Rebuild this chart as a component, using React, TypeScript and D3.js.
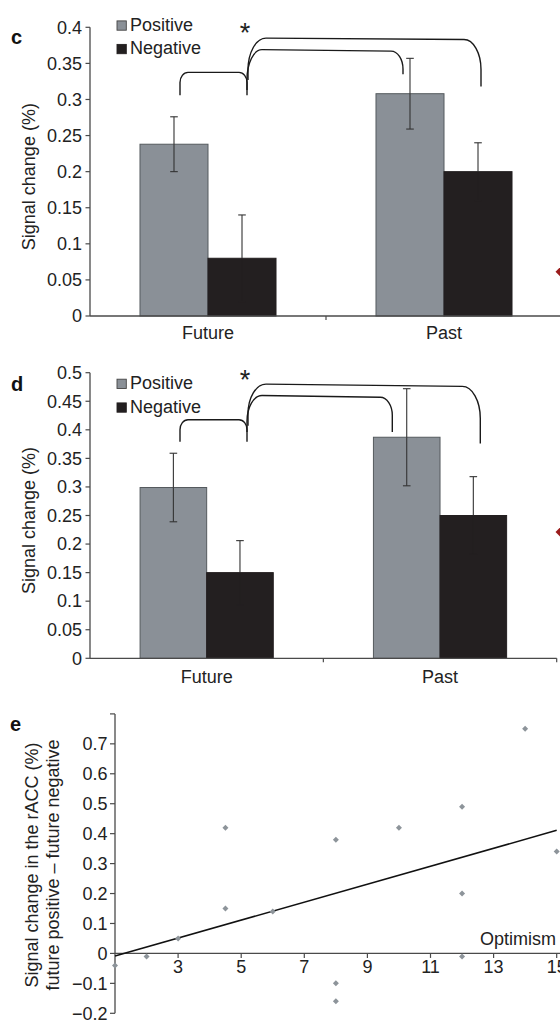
import React, { useEffect } from "react";
import * as d3 from "d3";

// ---------- data ----------
const categories = ["Future", "Past"];
const seriesNames = ["Positive", "Negative"];

const cPositive = [0.238, 0.308];
const cPositiveErr = [0.038, 0.049];
const cNegative = [0.08, 0.2];
const cNegativeErr = [0.06, 0.04];
const cYTicks = [0, 0.05, 0.1, 0.15, 0.2, 0.25, 0.3, 0.35, 0.4];

const dPositive = [0.299, 0.387];
const dPositiveErr = [0.06, 0.085];
const dNegative = [0.15, 0.25];
const dNegativeErr = [0.056, 0.068];
const dYTicks = [0, 0.05, 0.1, 0.15, 0.2, 0.25, 0.3, 0.35, 0.4, 0.45, 0.5];

const eOptimism = [1, 2, 3, 4.5, 4.5, 6, 8, 8, 8, 10, 12, 12, 12, 14, 15];
const eSignal = [-0.04, -0.01, 0.05, 0.42, 0.15, 0.14, 0.38, -0.1, -0.16, 0.42, 0.49, 0.2, -0.01, 0.75, 0.34];
const eXTicks = [3, 5, 7, 9, 11, 13, 15];
const eYTicks = [-0.2, -0.1, 0, 0.1, 0.2, 0.3, 0.4, 0.5, 0.6, 0.7, 0.8];
const eYLabelled = [-0.2, -0.1, 0, 0.1, 0.2, 0.3, 0.4, 0.5, 0.6, 0.7];

// ---------- style ----------
const FONT = "'Liberation Sans', Arial, Helvetica, sans-serif";
const GRAY = "#8a9097";
const BLACK = "#231f20";
const AXIS = "#4a4a4a";
const FS = 18;

const fmt = (v: number) => {
  const s = String(+v.toFixed(2));
  return s.startsWith("-") ? "\u2212" + s.slice(1) : s;
};

function bracketPath(
  x1: number, yb1: number, x2: number, yb2: number,
  yt1: number, yt2: number, rxl: number, ryl: number, rxr: number, ryr: number
) {
  const k = 0.448;
  return `M${x1},${yb1} L${x1},${yt1 + ryl} C${x1},${yt1 + ryl * k} ${x1 + rxl * k},${yt1} ${x1 + rxl},${yt1} L${x2 - rxr},${yt2} C${x2 - rxr * k},${yt2} ${x2},${yt2 + ryr * k} ${x2},${yt2 + ryr} L${x2},${yb2}`;
}

type Bracket = { x1: number; x2: number; b1: number; b2: number; t1: number; t2: number; rxl: number; ryl: number; rxr: number; ryr: number };

type BarCfg = {
  letter: string;
  letterY: number;
  pos: number[];
  posErr: number[];
  neg: number[];
  negErr: number[];
  ticks: number[];
  yDomain: [number, number];
  yRange: [number, number];
  xRange: [number, number];
  axisEnd: number;
  pairPad: number;
  labelDy: number;
  legendY: number;
  legendGap: number;
  starY: number;
  brackets: Bracket[];
  diamondY: number;
};

function BarPanel({ cfg }: { cfg: BarCfg }) {
  const y = d3.scaleLinear().domain(cfg.yDomain).range(cfg.yRange);
  const x0 = d3.scaleBand<string>().domain(categories).range(cfg.xRange).padding(0);
  const x1 = d3
    .scaleBand<string>()
    .domain(seriesNames)
    .range([0, x0.bandwidth()])
    .paddingInner(0)
    .paddingOuter(cfg.pairPad);
  const axisX = cfg.xRange[0];
  const y0 = y(0);
  const rows = categories.map((c, i) => ({
    c,
    vals: [
      { s: "Positive", v: cfg.pos[i], e: cfg.posErr[i], fill: GRAY, stroke: "#555a5e", err: "#333" },
      { s: "Negative", v: cfg.neg[i], e: cfg.negErr[i], fill: BLACK, stroke: BLACK, err: BLACK },
    ],
  }));
  const midY = (cfg.yRange[0] + cfg.yRange[1]) / 2 + 5;
  const diamond = d3.symbol(d3.symbolSquare, 50)() as string;
  return (
    <g fontFamily={FONT}>
      {/* panel letter */}
      <text x={11} y={cfg.letterY} fontSize={20} fontWeight="bold" fill="#111">
        {cfg.letter}
      </text>
      {/* y label */}
      <text
        transform={`translate(35,${midY}) rotate(-90)`}
        textAnchor="middle"
        fontSize={FS}
        fill="#222"
      >
        Signal change (%)
      </text>
      {/* bars */}
      {rows.map((r) =>
        r.vals.map((b) => {
          const bx = (x0(r.c) as number) + (x1(b.s) as number);
          return (
            <rect
              key={r.c + b.s}
              x={bx}
              y={y(b.v)}
              width={x1.bandwidth()}
              height={y0 - y(b.v)}
              fill={b.fill}
              stroke={b.stroke}
              strokeWidth={1}
            />
          );
        })
      )}
      {/* error bars */}
      {rows.map((r) =>
        r.vals.map((b) => {
          const cx = (x0(r.c) as number) + (x1(b.s) as number) + x1.bandwidth() / 2;
          const mid = y(b.v);
          const top = y(b.v + b.e);
          const bot = y(b.v - b.e);
          return (
            <g key={"e" + r.c + b.s} strokeWidth={1.1}>
              <line x1={cx} x2={cx} y1={top} y2={mid} stroke="#333" />
              <line x1={cx - 3.8} x2={cx + 3.8} y1={top} y2={top} stroke="#333" />
              <line x1={cx} x2={cx} y1={mid} y2={bot} stroke={b.err} />
              <line x1={cx - 3.8} x2={cx + 3.8} y1={bot} y2={bot} stroke={b.err} />
            </g>
          );
        })
      )}
      {/* y axis */}
      <line x1={axisX} x2={axisX} y1={cfg.yRange[1]} y2={y0} stroke={AXIS} strokeWidth={1.3} />
      {cfg.ticks.map((t) => (
        <g key={t}>
          <line x1={axisX - 4.5} x2={axisX} y1={y(t)} y2={y(t)} stroke={AXIS} strokeWidth={1.2} />
          <text x={axisX - 8} y={y(t)} dy="0.35em" textAnchor="end" fontSize={FS} fill="#222">
            {fmt(t)}
          </text>
        </g>
      ))}
      {/* x axis */}
      <line x1={axisX} x2={cfg.axisEnd} y1={y0} y2={y0} stroke={AXIS} strokeWidth={1.3} />
      {[x0("Past") as number, cfg.xRange[1]].map((tx, i) => (
        <line key={i} x1={tx} x2={tx} y1={y0} y2={y0 + 4} stroke={AXIS} strokeWidth={1.2} />
      ))}
      {categories.map((c) => (
        <text
          key={c}
          x={(x0(c) as number) + x0.bandwidth() / 2}
          y={y0 + cfg.labelDy}
          textAnchor="middle"
          fontSize={FS}
          fill="#222"
        >
          {c}
        </text>
      ))}
      {/* legend */}
      {seriesNames.map((s, i) => (
        <g key={s}>
          <rect
            x={117}
            y={cfg.legendY + i * cfg.legendGap - 9.8}
            width={9.3}
            height={9.3}
            fill={i === 0 ? GRAY : BLACK}
            stroke={i === 0 ? "#444" : BLACK}
            strokeWidth={0.9}
          />
          <text x={130} y={cfg.legendY + i * cfg.legendGap} fontSize={FS} fill="#222">
            {s}
          </text>
        </g>
      ))}
      {/* significance */}
      <text x={245} y={cfg.starY} textAnchor="middle" fontSize={27} fill="#222">
        *
      </text>
      {cfg.brackets.map((b, i) => (
        <path
          key={i}
          d={bracketPath(b.x1, y(b.b1), b.x2, y(b.b2), y(b.t1), y(b.t2), b.rxl, b.ryl, b.rxr, b.ryr)}
          fill="none"
          stroke="#1a1a1a"
          strokeWidth={1.4}
        />
      ))}
      {/* partial marker from neighbouring panel */}
      <path d={diamond} transform={`translate(560.5,${cfg.diamondY}) rotate(45)`} fill="#9b1c1c" />
    </g>
  );
}

const cCfg: BarCfg = {
  letter: "c",
  letterY: 44,
  pos: cPositive,
  posErr: cPositiveErr,
  neg: cNegative,
  negErr: cNegativeErr,
  ticks: cYTicks,
  yDomain: [0, 0.4],
  yRange: [316, 27.3],
  xRange: [90, 562],
  axisEnd: 560,
  pairPad: 0.735,
  labelDy: 23,
  legendY: 30.7,
  legendGap: 23.5,
  starY: 42,
  diamondY: 271.7,
  brackets: [
    { x1: 180, x2: 247, b1: 0.306, b2: 0.306, t1: 0.3375, t2: 0.3375, rxl: 8, ryl: 10, rxr: 8, ryr: 10 },
    { x1: 247, x2: 403, b1: 0.313, b2: 0.335, t1: 0.369, t2: 0.367, rxl: 15, ryl: 30, rxr: 12, ryr: 18 },
    { x1: 248, x2: 481, b1: 0.327, b2: 0.318, t1: 0.385, t2: 0.383, rxl: 18, ryl: 32, rxr: 17, ryr: 30 },
  ],
};

const dCfg: BarCfg = {
  letter: "d",
  letterY: 390.7,
  pos: dPositive,
  posErr: dPositiveErr,
  neg: dNegative,
  negErr: dNegativeErr,
  ticks: dYTicks,
  yDomain: [0, 0.5],
  yRange: [658.3, 372.7],
  xRange: [90, 556.7],
  axisEnd: 556.7,
  pairPad: 0.752,
  labelDy: 25,
  legendY: 389,
  legendGap: 23.7,
  starY: 389.3,
  diamondY: 532,
  brackets: [
    { x1: 180, x2: 247, b1: 0.379, b2: 0.379, t1: 0.4177, t2: 0.4177, rxl: 8, ryl: 10, rxr: 8, ryr: 10 },
    { x1: 247, x2: 392.3, b1: 0.396, b2: 0.396, t1: 0.46, t2: 0.457, rxl: 15, ryl: 26, rxr: 12, ryr: 18 },
    { x1: 248, x2: 480.3, b1: 0.407, b2: 0.376, t1: 0.48, t2: 0.476, rxl: 18, ryl: 30, rxr: 18, ryr: 32 },
  ],
};

function ScatterPanel() {
  const x = d3.scaleLinear().domain([1, 15]).range([115, 556.7]);
  const y = d3.scaleLinear().domain([-0.2, 0.8]).range([1013.3, 713.9]);
  const pts = eOptimism.map((o, i) => ({ o, s: eSignal[i] }));
  const mx = d3.mean(eOptimism) as number;
  const my = d3.mean(eSignal) as number;
  const sxy = d3.sum(pts, (p) => (p.o - mx) * (p.s - my));
  const sxx = d3.sum(pts, (p) => (p.o - mx) * (p.o - mx));
  const slope = sxy / sxx;
  const icpt = my - slope * mx;
  const line = d3
    .line<number>()
    .x((d) => x(d))
    .y((d) => y(icpt + slope * d));
  const sym = d3.symbol(d3.symbolSquare, 18)() as string;
  const y0 = y(0);
  return (
    <g fontFamily={FONT}>
      <text x={10} y={731} fontSize={20} fontWeight="bold" fill="#111">
        e
      </text>
      <text transform={`translate(38,865) rotate(-90)`} textAnchor="middle" fontSize={FS} fill="#222">
        Signal change in the rACC (%)
      </text>
      <text transform={`translate(58.5,865) rotate(-90)`} textAnchor="middle" fontSize={FS} fill="#222">
        future positive {"\u2013"} future negative
      </text>
      {/* y axis */}
      <line x1={115} x2={115} y1={y(0.8)} y2={y(-0.2)} stroke={AXIS} strokeWidth={1.3} />
      {eYTicks.map((t) => (
        <line key={t} x1={110} x2={115} y1={y(t)} y2={y(t)} stroke={AXIS} strokeWidth={1.2} />
      ))}
      {eYLabelled.map((t) => (
        <text key={t} x={107.5} y={y(t)} dy="0.35em" textAnchor="end" fontSize={FS} fill="#222">
          {fmt(t)}
        </text>
      ))}
      {/* x axis */}
      <line x1={115} x2={560} y1={y0} y2={y0} stroke={AXIS} strokeWidth={1.3} />
      {eXTicks.map((t) => (
        <g key={t}>
          <line x1={x(t)} x2={x(t)} y1={y0} y2={y0 + 4.5} stroke={AXIS} strokeWidth={1.2} />
          <text x={x(t)} y={y0 + 19.5} textAnchor="middle" fontSize={FS} fill="#222">
            {t}
          </text>
        </g>
      ))}
      <text x={556} y={945} textAnchor="end" fontSize={FS} fill="#222">
        Optimism
      </text>
      {/* regression line */}
      <path d={line([1, 15]) as string} fill="none" stroke="#111" strokeWidth={1.5} />
      {/* points */}
      {pts.map((p, i) => (
        <path key={i} d={sym} transform={`translate(${x(p.o)},${y(p.s)}) rotate(45)`} fill="#8d949a" />
      ))}
    </g>
  );
}

export default function App() {
  useEffect(() => {
    document.body.style.margin = "0";
    document.body.style.overflow = "hidden";
  }, []);
  return (
    <svg width={560} height={1023} viewBox="0 0 560 1023" style={{ display: "block", background: "#fff" }}>
      <rect width={560} height={1023} fill="#fff" />
      <BarPanel cfg={cCfg} />
      <BarPanel cfg={dCfg} />
      <ScatterPanel />
    </svg>
  );
}
